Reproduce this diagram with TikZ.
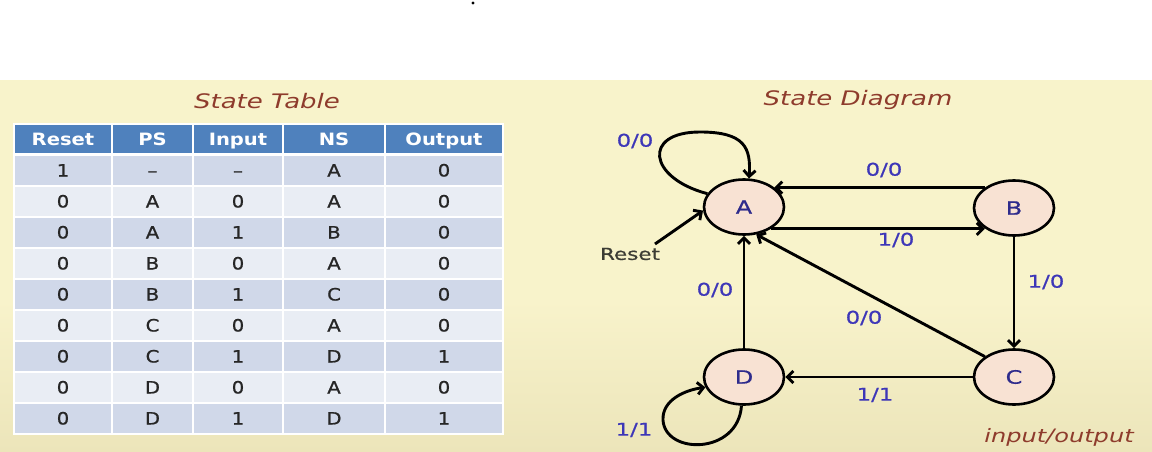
\documentclass[tikz,border=0pt]{standalone}
\usepackage{fontspec}
\setmainfont{DejaVu Sans}[FakeStretch=1.3, UprightFeatures={FakeBold=0.6}]
\newfontfamily\tabfont{DejaVu Sans}[FakeStretch=1.15, UprightFeatures={FakeBold=1}]
\usetikzlibrary{arrows.meta,shapes.geometric}
\definecolor{slidebg}{HTML}{F8F3CB}
\definecolor{slidebot}{HTML}{ECE5BA}
\definecolor{hdrblue}{HTML}{4F81BD}
\definecolor{rowdark}{HTML}{D0D8E9}
\definecolor{rowlight}{HTML}{E9EDF4}
\definecolor{titlered}{HTML}{8E3B2C}
\definecolor{labelblue}{HTML}{3D36B8}
\definecolor{letterblue}{HTML}{2E2B8C}
\definecolor{statefill}{HTML}{F8E2D3}
\definecolor{resetgray}{HTML}{3C3C34}
\tikzset{
  state/.style={ellipse, draw, line width=2.6pt, fill=statefill, minimum width=80pt,
    minimum height=55pt, inner sep=0pt, text=letterblue, font=\fontsize{18.5}{18.5}\selectfont},
  trans/.style={line width=2.9pt, -{Straight Barb[length=6pt,width=12pt]}},
  lbl/.style={text=labelblue, font=\fontsize{17.5}{17.5}\selectfont},
  cell/.style={draw=white, line width=1.5pt, minimum height=31pt, inner sep=0pt,
    text height=12pt, text depth=0pt, text=black!85, font=\tabfont\fontsize{17}{17}\selectfont},
  hcell/.style={cell, fill=hdrblue, minimum height=30pt, text=white,
    font=\tabfont\bfseries\fontsize{17}{17}\selectfont},
  heading/.style={text=titlered, font=\itshape\fontsize{20}{20}\selectfont}
}
\begin{document}
\begin{tikzpicture}[x=1pt, y=-1pt]
  \useasboundingbox (0,0) rectangle (1152,452);
  \fill [slidebg] (0,80) rectangle (1152,300);
  \shade [top color=slidebg, bottom color=slidebot] (0,300) rectangle (1152,452);
  \fill (473,3) circle (1.6pt);

  \node [heading] (tabtitle) at (267,101) {State Table};
  \foreach \hd/\cx/\cw in {Reset/63/98, PS/152.5/81, Input/238/90, NS/334/102, Output/444/118}
    \node [hcell, minimum width=\cw pt] (h-\hd) at (\cx,139) {\hd};
  \foreach \vals [count=\i] in {{1,–,–,A,0},{0,A,0,A,0},{0,A,1,B,0},{0,B,0,A,0},{0,B,1,C,0},
      {0,C,0,A,0},{0,C,1,D,1},{0,D,0,A,0},{0,D,1,D,1}} {
    \pgfmathsetmacro\rowy{139.5+31*\i}
    \ifodd\i \def\rowcol{rowdark}\else \def\rowcol{rowlight}\fi
    \foreach \v [count=\j] in \vals {
      \pgfmathsetmacro\cx{{63,152.5,238,334,444}[\j-1]}
      \pgfmathsetmacro\cw{{98,81,90,102,118}[\j-1]}
      \node [cell, fill=\rowcol, minimum width=\cw pt] (c\i-\j) at (\cx,\rowy) {\v};
    }
  }

  \node [heading] (diagtitle) at (858,100) {State Diagram};
  \node [state] (A) at (744,207) {A};
  \node [state] (B) at (1014,208) {B};
  \node [state] (C) at (1014,377) {C};
  \node [state] (D) at (744,377) {D};

  \draw [trans] (B.145) -- (B.145 -| A.33);
  \draw [trans] (A.-39) -- (A.-39 -| B.215);
  \draw [trans] (B) -- (C);
  \draw [trans] (C) -- (D);
  \draw [trans] (D) -- (A);
  \draw [trans] (C.145) -- (A.-66);
  \draw [trans] (A.160) .. controls (648,178) and (642,132) .. (700,132)
    .. controls (745,132) and (751,148) .. (A.80);
  \draw [trans] (D.265) .. controls (738,455) and (665,455) .. (663,420)
    .. controls (662,400) and (685,390) .. (D.195);

  \coordinate (rst) at (655,244);
  \node [text=resetgray, font=\fontsize{16.5}{16.5}\selectfont] (reset) at (630,254) {Reset};
  \draw [trans] (rst) -- (A.185);

  \node [lbl] (l-aa) at (635,141) {0/0};
  \node [lbl] (l-ba) at (884,170) {0/0};
  \node [lbl] (l-ab) at (896,240) {1/0};
  \node [lbl] (l-bc) at (1046,282) {1/0};
  \node [lbl] (l-da) at (715,290) {0/0};
  \node [lbl] (l-ca) at (864,318) {0/0};
  \node [lbl] (l-cd) at (875,395) {1/1};
  \node [lbl] (l-dd) at (634,430) {1/1};
  \node [heading, font=\itshape\fontsize{18.5}{18.5}\selectfont] (key) at (1059,437) {input/output};
\end{tikzpicture}
\end{document}
